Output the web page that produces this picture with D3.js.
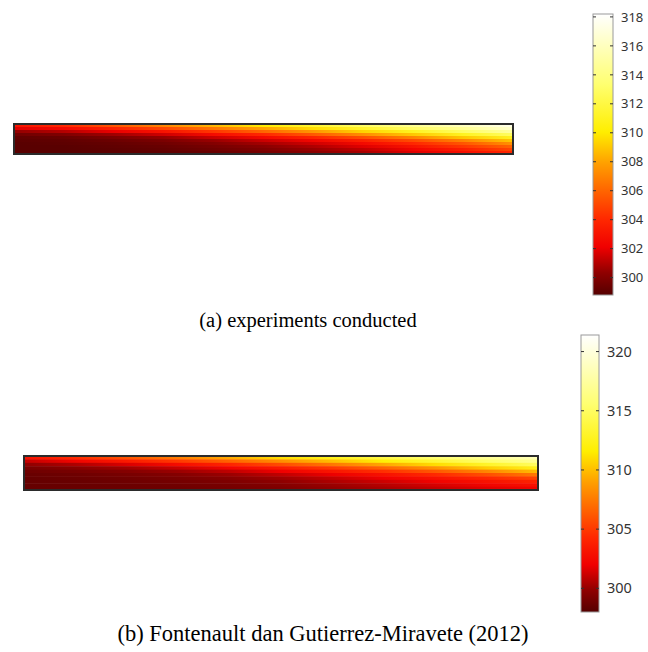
<!DOCTYPE html>
<html>
<head>
<meta charset="UTF-8">
<script src="https://cdn.jsdelivr.net/npm/d3@7"></script>
<style>
  body { margin: 0; background: #fff; }
  svg { display: block; }
</style>
</head>
<body>
<script>
// colour map (fraction of range -> colour)
const cmapPos = [0, 0.08, 0.17, 0.27, 0.47, 0.58, 0.75, 1]
const cmapColor = ['#550000', '#900000', '#f00000', '#ff2800', '#ffa000', '#ffee00', '#ffff70', '#ffffff']

// position along the rod (fraction of its length)
const rodX = [0, 0.1, 0.2, 0.3, 0.4, 0.5, 0.6, 0.7, 0.8, 0.9, 1]

// temperature profiles (K), one per rodX position, top surface -> bottom surface
const profileA = [
  [303, 301.8, 300.4, 299.5, 299.1, 299, 298.9, 298.9, 298.9, 298.9],
  [304, 302.5, 301, 299.9, 299.3, 299.1, 299, 298.9, 298.9, 298.9],
  [305.5, 303.7, 302, 300.6, 299.8, 299.4, 299.2, 299.1, 299, 299],
  [307, 305, 303, 301.5, 300.4, 299.8, 299.5, 299.3, 299.2, 299.1],
  [308.5, 306.5, 304.5, 302.7, 301.4, 300.5, 300, 299.7, 299.5, 299.3],
  [310, 308, 306, 304, 302.5, 301.4, 300.7, 300.2, 299.9, 299.7],
  [311.5, 309.6, 307.6, 305.6, 303.8, 302.4, 301.5, 300.9, 300.5, 300.2],
  [313, 311.3, 309.3, 307.3, 305.3, 303.7, 302.6, 301.8, 301.2, 300.8],
  [314.5, 313, 311, 309, 307, 305.2, 304, 303, 302.3, 301.8],
  [316, 314.5, 313, 311, 309, 307, 305.5, 304.5, 303.5, 302.8],
  [317.5, 316.5, 315, 313, 311, 309, 307.5, 306, 305, 304]
]
const profileB = [
  [303, 301, 299.8, 299.1, 298.8, 298.6, 298.5, 298.5, 298.5, 298.5],
  [304.4, 302.2, 300.5, 299.6, 299.1, 298.8, 298.7, 298.6, 298.6, 298.6],
  [306, 303.5, 301.5, 300.2, 299.5, 299.1, 298.9, 298.8, 298.7, 298.7],
  [307.6, 305, 302.7, 301.1, 300.1, 299.5, 299.2, 299, 298.9, 298.8],
  [309.3, 306.6, 304.1, 302.2, 300.9, 300.1, 299.6, 299.3, 299.1, 299],
  [311, 308.3, 305.7, 303.5, 302, 300.9, 300.2, 299.8, 299.5, 299.3],
  [312.5, 310, 307.4, 305, 303.2, 301.9, 301, 300.5, 300.1, 299.9],
  [314, 311.8, 309.2, 306.7, 304.6, 303, 302, 301.2, 300.7, 300.4],
  [315.5, 313.5, 311, 308.5, 306.2, 304.3, 303, 302.1, 301.4, 301],
  [317, 315.3, 313, 310.5, 308, 305.8, 304.2, 303, 302.2, 301.6],
  [318.5, 317, 315, 312.5, 310, 307.5, 305.5, 304, 303, 302.2]
]

// colour bar ranges and ticks
const rangeA = [298.8, 318.2]
const ticksA = [300, 302, 304, 306, 308, 310, 312, 314, 316, 318]
const rangeB = [298.0, 321.4]
const ticksB = [300, 305, 310, 315, 320]

const captionA = '(a) experiments conducted'
const captionB = '(b) Fontenault dan Gutierrez-Miravete (2012)'

const svg = d3.select('body').append('svg')
  .attr('width', 648)
  .attr('height', 652)
const defs = svg.append('defs')

const panels = [
  { id: 'a', profile: profileA, range: rangeA, ticks: ticksA, caption: captionA,
    rod: { x0: 14, x1: 513, y0: 124, y1: 154 },
    bar: { x0: 593, x1: 613, y0: 14, y1: 295 }, fs: 13, capX: 308, capY: 327, capFs: 20.5 },
  { id: 'b', profile: profileB, range: rangeB, ticks: ticksB, caption: captionB,
    rod: { x0: 24, x1: 538, y0: 456, y1: 490 },
    bar: { x0: 581, x1: 599, y0: 335, y1: 612 }, fs: 14.5, capX: 323, capY: 641, capFs: 22.5 }
]

panels.forEach(p => {
  const color = d3.scaleLinear()
    .domain(cmapPos.map(t => p.range[0] + t * (p.range[1] - p.range[0])))
    .range(cmapColor)
    .interpolate(d3.interpolateRgb)
    .clamp(true)

  // rows of the field (top -> bottom), each drawn as a horizontal strip
  const rows = d3.transpose(p.profile)
  const x = d3.scaleLinear().domain([0, 1]).range([p.rod.x0, p.rod.x1])
  const y = d3.scaleBand().domain(d3.range(rows.length)).range([p.rod.y0, p.rod.y1])

  rows.forEach((row, i) => {
    const g = defs.append('linearGradient')
      .attr('id', 'row-' + p.id + i)
      .attr('x1', '0%').attr('x2', '100%').attr('y1', '0%').attr('y2', '0%')
    g.selectAll('stop')
      .data(row)
      .join('stop')
      .attr('offset', (d, j) => (rodX[j] * 100) + '%')
      .attr('stop-color', d => color(d))
  })

  svg.append('g')
    .selectAll('rect')
    .data(rows)
    .join('rect')
    .attr('x', x(0))
    .attr('y', (d, i) => y(i))
    .attr('width', x(1) - x(0))
    .attr('height', y.bandwidth() + 0.5)
    .attr('fill', (d, i) => 'url(#row-' + p.id + i + ')')

  svg.append('rect')
    .attr('x', x(0)).attr('y', p.rod.y0)
    .attr('width', x(1) - x(0)).attr('height', p.rod.y1 - p.rod.y0)
    .attr('fill', 'none')
    .attr('stroke', '#2b2b2b')
    .attr('stroke-width', 2)

  // colour bar
  const cy = d3.scaleLinear().domain(p.range).range([p.bar.y1, p.bar.y0])
  const bg = defs.append('linearGradient')
    .attr('id', 'bar-' + p.id)
    .attr('x1', '0%').attr('x2', '0%').attr('y1', '100%').attr('y2', '0%')
  bg.selectAll('stop')
    .data(cmapPos)
    .join('stop')
    .attr('offset', d => (d * 100) + '%')
    .attr('stop-color', (d, i) => cmapColor[i])

  svg.append('rect')
    .attr('x', p.bar.x0).attr('y', p.bar.y0)
    .attr('width', p.bar.x1 - p.bar.x0).attr('height', p.bar.y1 - p.bar.y0)
    .attr('fill', 'url(#bar-' + p.id + ')')
    .attr('stroke', '#9a9a9a')
    .attr('stroke-width', 1)

  const tk = svg.append('g')
  tk.selectAll('line.l')
    .data(p.ticks)
    .join('line')
    .attr('class', 'l')
    .attr('x1', p.bar.x0).attr('x2', p.bar.x0 + 3)
    .attr('y1', d => cy(d)).attr('y2', d => cy(d))
    .attr('stroke', '#333').attr('stroke-width', 1)
  tk.selectAll('line.r')
    .data(p.ticks)
    .join('line')
    .attr('class', 'r')
    .attr('x1', p.bar.x1 - 3).attr('x2', p.bar.x1)
    .attr('y1', d => cy(d)).attr('y2', d => cy(d))
    .attr('stroke', '#333').attr('stroke-width', 1)

  const axis = svg.append('g')
    .attr('transform', 'translate(' + (p.bar.x1 + 2) + ',0)')
    .call(d3.axisRight(cy).tickValues(p.ticks).tickSize(0).tickPadding(6).tickFormat(d3.format('d')))
  axis.select('.domain').remove()
  axis.selectAll('text')
    .attr('fill', '#333')
    .style('font-family', '"Noto Sans", "DejaVu Sans", sans-serif')
    .style('font-size', p.fs + 'px')

  // caption
  svg.append('text')
    .attr('x', p.capX).attr('y', p.capY)
    .attr('text-anchor', 'middle')
    .style('font-family', '"Liberation Serif", "Times New Roman", serif')
    .style('font-size', p.capFs + 'px')
    .attr('fill', '#000')
    .text(p.caption)
})
</script>
</body>
</html>
